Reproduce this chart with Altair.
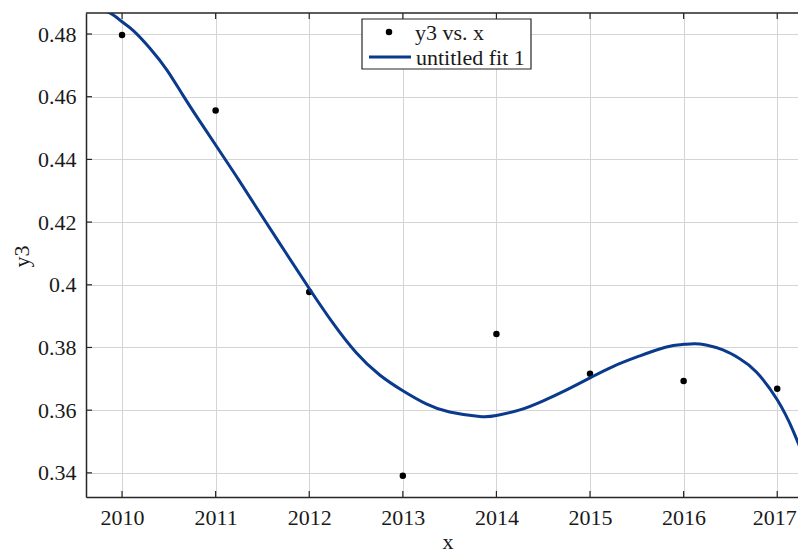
import altair as alt
import pandas as pd

# data points (y3 vs. x)
years = [2010, 2011, 2012, 2013, 2014, 2015, 2016, 2017]
y3 = [0.4797, 0.4556, 0.3977, 0.3391, 0.3843, 0.3716, 0.3693, 0.3668]

# fitted curve
fit_x = [2009.6, 2009.87, 2010.0, 2010.12, 2010.3, 2010.48, 2010.65, 2010.83, 2011.0, 2011.25,
         2011.5, 2011.75, 2012.0, 2012.25, 2012.5, 2012.75, 2013.0, 2013.25, 2013.5, 2013.82,
         2014.0, 2014.25, 2014.5, 2014.75, 2015.0, 2015.25, 2015.53, 2015.71, 2015.89, 2016.0,
         2016.11, 2016.24, 2016.42, 2016.6, 2016.78, 2017.0, 2017.17, 2017.31, 2017.4]
fit_y = [0.4900, 0.4867, 0.4839, 0.4811, 0.4754, 0.4685, 0.4605, 0.4522, 0.4446, 0.4333,
         0.4217, 0.4102, 0.3988, 0.3879, 0.3784, 0.3713, 0.3662, 0.3620, 0.3594, 0.3580,
         0.3583, 0.3601, 0.3630, 0.3665, 0.3703, 0.3740, 0.3773, 0.3792, 0.3806, 0.3810,
         0.3812, 0.3808, 0.3792, 0.3764, 0.3721, 0.3633, 0.3534, 0.3428, 0.3350]

x_ticks = [2010, 2011, 2012, 2013, 2014, 2015, 2016, 2017]
y_ticks = [0.34, 0.36, 0.38, 0.40, 0.42, 0.44, 0.46, 0.48]

x_domain = [2009.615, 2017.222]
y_domain = [0.3323, 0.4867]

FONT = "Liberation Serif, Times New Roman, serif"
BLUE = "#0a3a8c"
TXT = "#1a1a1a"
W, H = 712, 484

pts = pd.DataFrame({"x": years, "y3": y3})
fit = pd.DataFrame({"x": fit_x, "y": fit_y})
xt = pd.DataFrame({"t": x_ticks})
yt = pd.DataFrame({"t": y_ticks})
one = pd.DataFrame({"a": [0]})

xs = alt.Scale(domain=x_domain, nice=False, zero=False)
ys = alt.Scale(domain=y_domain, nice=False, zero=False)

xaxis = alt.Axis(values=x_ticks, format="d", grid=True, gridColor="#d4d4d4", gridWidth=1,
                 ticks=False, domainColor="#262626", domainWidth=1.5, labelFont=FONT,
                 labelFontSize=22, labelColor=TXT, labelPadding=10, title=None,
                 labelFlush=25, labelFlushOffset=19)
yaxis = alt.Axis(values=y_ticks, format="~g", grid=True, gridColor="#d4d4d4", gridWidth=1,
                 ticks=False, domainColor="#262626", domainWidth=1.5, labelFont=FONT,
                 labelFontSize=22, labelColor=TXT, labelPadding=10, title="y3",
                 titleFont=FONT, titleFontSize=22, titleFontWeight="normal",
                 titleColor=TXT, titleX=-65, titleY=243, titleBaseline="middle",
                 titleAlign="center", titleAngle=270)

base_pts = alt.Chart(pts).mark_circle(size=42, color="black", opacity=1).encode(
    x=alt.X("x:Q", scale=xs, axis=xaxis),
    y=alt.Y("y3:Q", scale=ys, axis=yaxis),
)

line = alt.Chart(fit).mark_line(color=BLUE, strokeWidth=3, clip=True, interpolate="natural").encode(
    x=alt.X("x:Q", scale=xs),
    y=alt.Y("y:Q", scale=ys),
)

tick_col = "#262626"
bot_ticks = alt.Chart(xt).mark_rule(color=tick_col, strokeWidth=1.2).encode(
    x=alt.X("t:Q", scale=xs), y=alt.value(H), y2=alt.value(H - 6))
top_ticks = alt.Chart(xt).mark_rule(color=tick_col, strokeWidth=1.2).encode(
    x=alt.X("t:Q", scale=xs), y=alt.value(0), y2=alt.value(6))
left_ticks = alt.Chart(yt).mark_rule(color=tick_col, strokeWidth=1.2).encode(
    y=alt.Y("t:Q", scale=ys), x=alt.value(0), x2=alt.value(6))
top_frame = alt.Chart(one).mark_rule(color=tick_col, strokeWidth=1.5).encode(
    x=alt.value(0), x2=alt.value(W), y=alt.value(0))

# x axis title
x_title = alt.Chart(one).mark_text(font=FONT, fontSize=22, align="center", baseline="alphabetic",
                                   color=TXT).encode(
    x=alt.value(362), y=alt.value(H + 52), text=alt.value("x"))

# legend
leg_box = alt.Chart(one).mark_rect(fill="white", stroke="#262626", strokeWidth=1.2).encode(
    x=alt.value(276), x2=alt.value(445), y=alt.value(6), y2=alt.value(56))
leg_dot = alt.Chart(one).mark_circle(size=42, color="black", opacity=1).encode(
    x=alt.value(303), y=alt.value(19))
leg_line = alt.Chart(one).mark_rule(color=BLUE, strokeWidth=3).encode(
    x=alt.value(283), x2=alt.value(325), y=alt.value(44))
leg_t1 = alt.Chart(one).mark_text(font=FONT, fontSize=22, align="left", baseline="middle",
                                  color=TXT).encode(
    x=alt.value(329), y=alt.value(20), text=alt.value("y3 vs. x"))
leg_t2 = alt.Chart(one).mark_text(font=FONT, fontSize=22, align="left", baseline="middle",
                                  color=TXT).encode(
    x=alt.value(330), y=alt.value(45), text=alt.value("untitled fit 1"))

chart = alt.layer(
    base_pts, line, bot_ticks, top_ticks, left_ticks, top_frame, x_title,
    leg_box, leg_dot, leg_line, leg_t1, leg_t2
).properties(
    width=W, height=H,
    autosize=alt.AutoSizeParams(type="none"),
    padding={"left": 78, "top": 5, "right": 0, "bottom": 57},
    background="white",
).configure_view(stroke=None)

chart.save("out.html", embed_options={"renderer": "svg", "actions": False})
